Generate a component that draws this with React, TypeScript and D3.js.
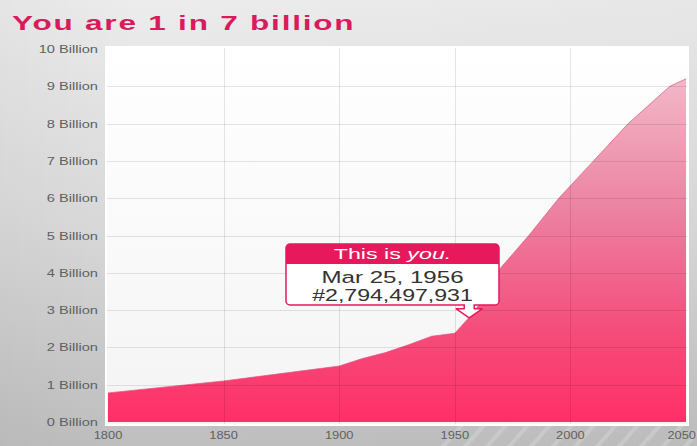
import React from "react";
import * as d3 from "d3";

const years = [1800, 1850, 1900, 1910, 1920, 1930, 1940, 1950, 1956, 1960, 1968, 1982, 1995, 2010, 2025, 2043, 2050];
const population = [0.78, 1.1, 1.5, 1.7, 1.86, 2.07, 2.3, 2.38, 2.79, 3.1, 4.0, 5.0, 6.0, 7.0, 8.0, 9.0, 9.2];
const yTicks = [0, 1, 2, 3, 4, 5, 6, 7, 8, 9, 10];
const xTicks = [1800, 1850, 1900, 1950, 2000, 2050];
const title = "You are 1 in 7 billion";
const tipYear = 1956.23;
const tipValue = 2.794497931;
const tipHeader = "This is ";
const tipHeaderItalic = "you.";
const tipDate = "Mar 25, 1956";
const tipNumber = "#2,794,497,931";

const W = 697;
const H = 446;

export default function App() {
  const x = d3.scaleLinear().domain([1800, 2050]).range([108, 686]);
  const y = d3.scaleLinear().domain([0, 10]).range([422, 49]);
  const data = years.map((yr, i) => ({ yr, v: population[i] }));
  const area = d3.area<{ yr: number; v: number }>()
    .x((d) => x(d.yr))
    .y0(y(0))
    .y1((d) => y(d.v));
  const line = d3.line<{ yr: number; v: number }>()
    .x((d) => x(d.yr))
    .y((d) => y(d.v));

  const font = "'Liberation Sans', Arial, Helvetica, sans-serif";
  const px = x(tipYear);
  const py = y(tipValue);
  const bx0 = 286, bx1 = 499, by0 = 244, by1 = 305, hb = 264;
  const cx = (bx0 + bx1) / 2;
  const arrow = `M${px - 5},${by1} L${px - 5},${py - 9} L${px - 13},${py - 9} L${px},${py} L${px + 13},${py - 9} L${px + 5},${py - 9} L${px + 5},${by1}`;

  const stripes = d3.range(0, 14).map((i) => 440 + i * 22);
  const st = (tx: number, ty: number, sx: number) => `translate(${tx},${ty}) scale(${sx},1)`;

  return (
    <svg width={W} height={H} style={{ position: "absolute", left: 0, top: 0 }}>
      <defs>
        <linearGradient id="bg" x1="0" y1="0" x2="0" y2="1">
          <stop offset="0" stopColor="#ececec" />
          <stop offset="0.5" stopColor="#dadada" />
          <stop offset="1" stopColor="#bfbfbf" />
        </linearGradient>
        <linearGradient id="bgh" x1="0" y1="0" x2="1" y2="0">
          <stop offset="0" stopColor="#000" stopOpacity="0.03" />
          <stop offset="0.2" stopColor="#000" stopOpacity="0" />
          <stop offset="1" stopColor="#000" stopOpacity="0.02" />
        </linearGradient>
        <linearGradient id="plotbg" x1="0" y1="0" x2="0" y2="1">
          <stop offset="0" stopColor="#ffffff" />
          <stop offset="1" stopColor="#f4f4f4" />
        </linearGradient>
        <linearGradient id="fill" gradientUnits="userSpaceOnUse" x1="0" y1={y(10)} x2="0" y2={y(0)}>
          <stop offset="0" stopColor="#f3c4d1" />
          <stop offset="0.45" stopColor="#ec7fa0" />
          <stop offset="0.75" stopColor="#f54d7b" />
          <stop offset="1" stopColor="#ff2f67" />
        </linearGradient>
        <clipPath id="clipStripes">
          <rect x={0} y={426} width={W} height={20} />
        </clipPath>
      </defs>
      <rect x={0} y={0} width={W} height={H} fill="url(#bg)" />
      <rect x={0} y={0} width={W} height={H} fill="url(#bgh)" />
      <g clipPath="url(#clipStripes)" stroke="#ffffff" strokeOpacity={0.18} strokeWidth={4}>
        {stripes.map((s) => (
          <line key={s} x1={s} y1={H + 4} x2={s + 30} y2={H - 30} />
        ))}
      </g>
      <text transform={st(12, 30, 1.5)} fill="#d81b5c" fontFamily={font} fontWeight="bold" fontSize={21} letterSpacing={1.2}>
        {title}
      </text>
      <rect x={105} y={46} width={584} height={380} fill="url(#plotbg)" />
      <path d={area(data) || ""} fill="url(#fill)" />
      <path d={line(data) || ""} fill="none" stroke="#e0557e" strokeWidth={1} strokeOpacity={0.7} />
      <g stroke="#000" strokeOpacity={0.1} strokeWidth={1}>
        {yTicks.slice(1, -1).map((t) => (
          <line key={t} x1={105} x2={689} y1={Math.round(y(t)) + 0.5} y2={Math.round(y(t)) + 0.5} />
        ))}
        {xTicks.slice(1, -1).map((t) => (
          <line key={t} x1={Math.round(x(t)) + 0.5} x2={Math.round(x(t)) + 0.5} y1={46} y2={426} />
        ))}
      </g>
      <rect x={106} y={47} width={582} height={378} fill="none" stroke="#ffffff" strokeWidth={2} />
      <g fontFamily={font} fontSize={11} fill="#606060">
        {yTicks.map((t) => (
          <text key={t} transform={st(98, y(t) + 4, 1.33)} textAnchor="end">{`${t} Billion`}</text>
        ))}
        {xTicks.map((t, i) => (
          <text
            key={t}
            transform={st(i === xTicks.length - 1 ? 696 : x(t), 439, 1.12)}
            textAnchor={i === xTicks.length - 1 ? "end" : "middle"}
            fontSize={11.5}
          >
            {t}
          </text>
        ))}
      </g>
      <path d={arrow} fill="#ffffff" stroke="#e8185c" strokeWidth={1.5} strokeLinejoin="round" />
      <rect x={bx0} y={by0} width={bx1 - bx0} height={by1 - by0} rx={4} fill="#ffffff" stroke="#e8185c" strokeWidth={1.5} />
      <path d={`M${bx0},${hb} L${bx0},${by0 + 4} Q${bx0},${by0} ${bx0 + 4},${by0} L${bx1 - 4},${by0} Q${bx1},${by0} ${bx1},${by0 + 4} L${bx1},${hb} Z`} fill="#e8185c" />
      <rect x={px - 4.2} y={by1 - 1.5} width={8.4} height={3} fill="#ffffff" />
      <text transform={st(cx, 259, 1.5)} textAnchor="middle" fill="#ffffff" fontFamily={font} fontSize={15.5}>
        {tipHeader}
        <tspan fontStyle="italic">{tipHeaderItalic}</tspan>
      </text>
      <text transform={st(cx, 283, 1.42)} textAnchor="middle" fill="#333" fontFamily={font} fontSize={17}>{tipDate}</text>
      <text transform={st(cx, 301, 1.36)} textAnchor="middle" fill="#333" fontFamily={font} fontSize={17}>{tipNumber}</text>
    </svg>
  );
}
